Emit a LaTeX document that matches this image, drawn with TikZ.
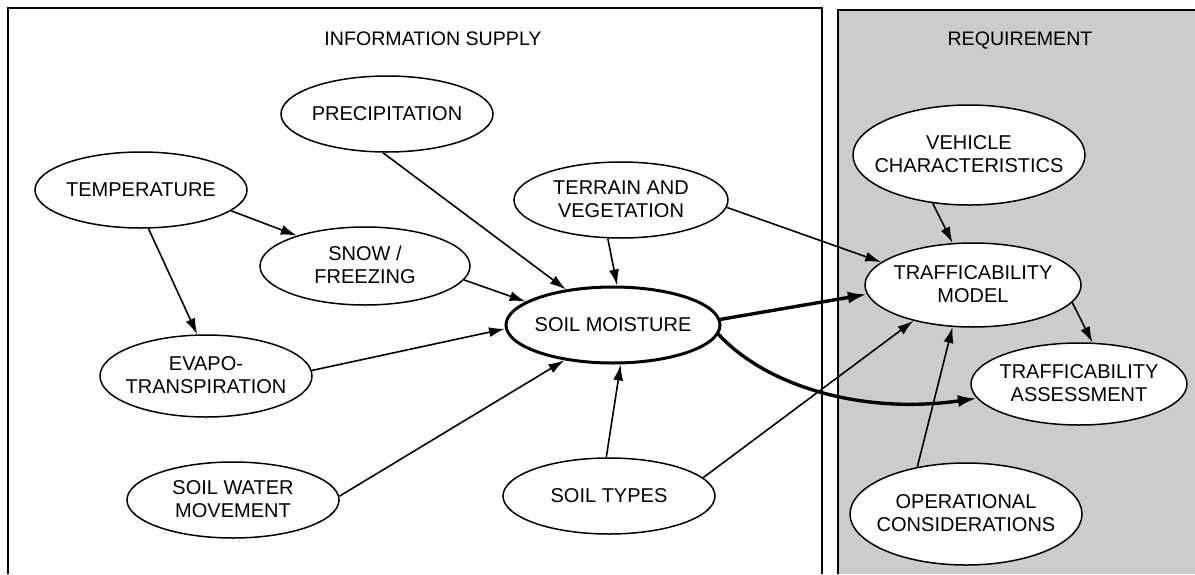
\documentclass[tikz,border=0pt]{standalone}
\usepackage{fontspec}
\setmainfont{Liberation Sans}
\usetikzlibrary{arrows.meta,shapes.geometric}
\newcommand\lbltext[1]{\makebox[0pt]{\raisebox{-13.5pt}{\smash{\begin{tabular}{@{}c@{}}#1\end{tabular}}}}}
\begin{document}
\begin{tikzpicture}[x=1pt,y=-1pt,
  el/.style={ellipse,draw,line width=1.5pt,fill=white,inner sep=0pt,font=\fontsize{20}{22.5}\selectfont},
  conn/.style={line width=1.6pt,-{Latex[length=16pt,width=10pt]}},
  thickconn/.style={line width=3.4pt,-{Latex[length=19pt,width=12pt]}},
  paneltitle/.style={font=\fontsize{19.6}{22}\selectfont,anchor=base,inner sep=0pt},
  frame/.style={line width=1.1pt}]
\useasboundingbox (0,0) rectangle (1195,574);
\fill[white] (0,0) rectangle (1195,574);
% panels
\fill[black!20] (838,10) rectangle (1195,574);
\draw[frame] (8,574) -- (8,8) -- (822,8) -- (822,574);
\draw[frame] (838,574) -- (838,10) -- (1195,10);
\node[paneltitle] (infotitle) at (433,45) {INFORMATION SUPPLY};
\node[paneltitle] (reqtitle) at (1020,45) {REQUIREMENT};
% nodes
\node[el,minimum width=212pt,minimum height=76pt] (prec) at (387,114) {\lbltext{PRECIPITATION}};
\node[el,minimum width=212pt,minimum height=76pt] (temp) at (141,190) {\lbltext{TEMPERATURE}};
\node[el,minimum width=210pt,minimum height=78pt] (snow) at (365,266) {\lbltext{SNOW /\\FREEZING}};
\node[el,minimum width=214pt,minimum height=76pt] (terr) at (621,200) {\lbltext{TERRAIN AND\\VEGETATION}};
\node[el,line width=3pt,minimum width=214pt,minimum height=76pt] (sm) at (613,325) {\lbltext{SOIL MOISTURE}};
\node[el,minimum width=212pt,minimum height=82pt] (evapo) at (206,376) {\lbltext{EVAPO-\\TRANSPIRATION}};
\node[el,minimum width=212pt,minimum height=76pt] (swm) at (233,500) {\lbltext{SOIL WATER\\MOVEMENT}};
\node[el,minimum width=212pt,minimum height=76pt] (st) at (609,496) {\lbltext{SOIL TYPES}};
\node[el,minimum width=232pt,minimum height=100pt] (vc) at (969,155) {\lbltext{VEHICLE\\CHARACTERISTICS}};
\node[el,minimum width=216pt,minimum height=84pt] (tm) at (973,285) {\lbltext{TRAFFICABILITY\\MODEL}};
\node[el,minimum width=216pt,minimum height=82pt] (ta) at (1079,384) {\lbltext{TRAFFICABILITY\\ASSESSMENT}};
\node[el,minimum width=232pt,minimum height=102pt] (oc) at (966,514) {\lbltext{OPERATIONAL\\CONSIDERATIONS}};
% connectors
\draw[conn] (temp.-13.9) -- (snow.156);
\draw[conn] (temp.-79.6) -- (evapo.102.4);
\draw[conn] (prec.-96) -- (sm.143.9);
\draw[conn] (snow.-8.9) -- (sm.165);
\draw[conn] (terr.-109) -- (sm.84);
\draw[conn] (terr.-4.3) -- (tm.166);
\draw[conn] (evapo.3.2) -- (sm.182.7);
\draw[conn] (swm.2.7) -- (sm.216.1);
\draw[conn] (st.94.5) -- (sm.-79.3);
\draw[conn] (st.11.2) -- (tm.-149.6);
\draw[conn] (vc.-127.6) -- (tm.116.6);
\draw[conn] (tm.-10.2) -- (ta.72.4);
\draw[conn] (oc.136.8) -- (tm.-116.6);
\draw[thickconn] (sm.3.8) -- (tm.-175.6);
\draw[thickconn] (sm.-5.5) .. controls (765,385) and (860,415) .. (ta.-172.5);
\end{tikzpicture}
\end{document}
